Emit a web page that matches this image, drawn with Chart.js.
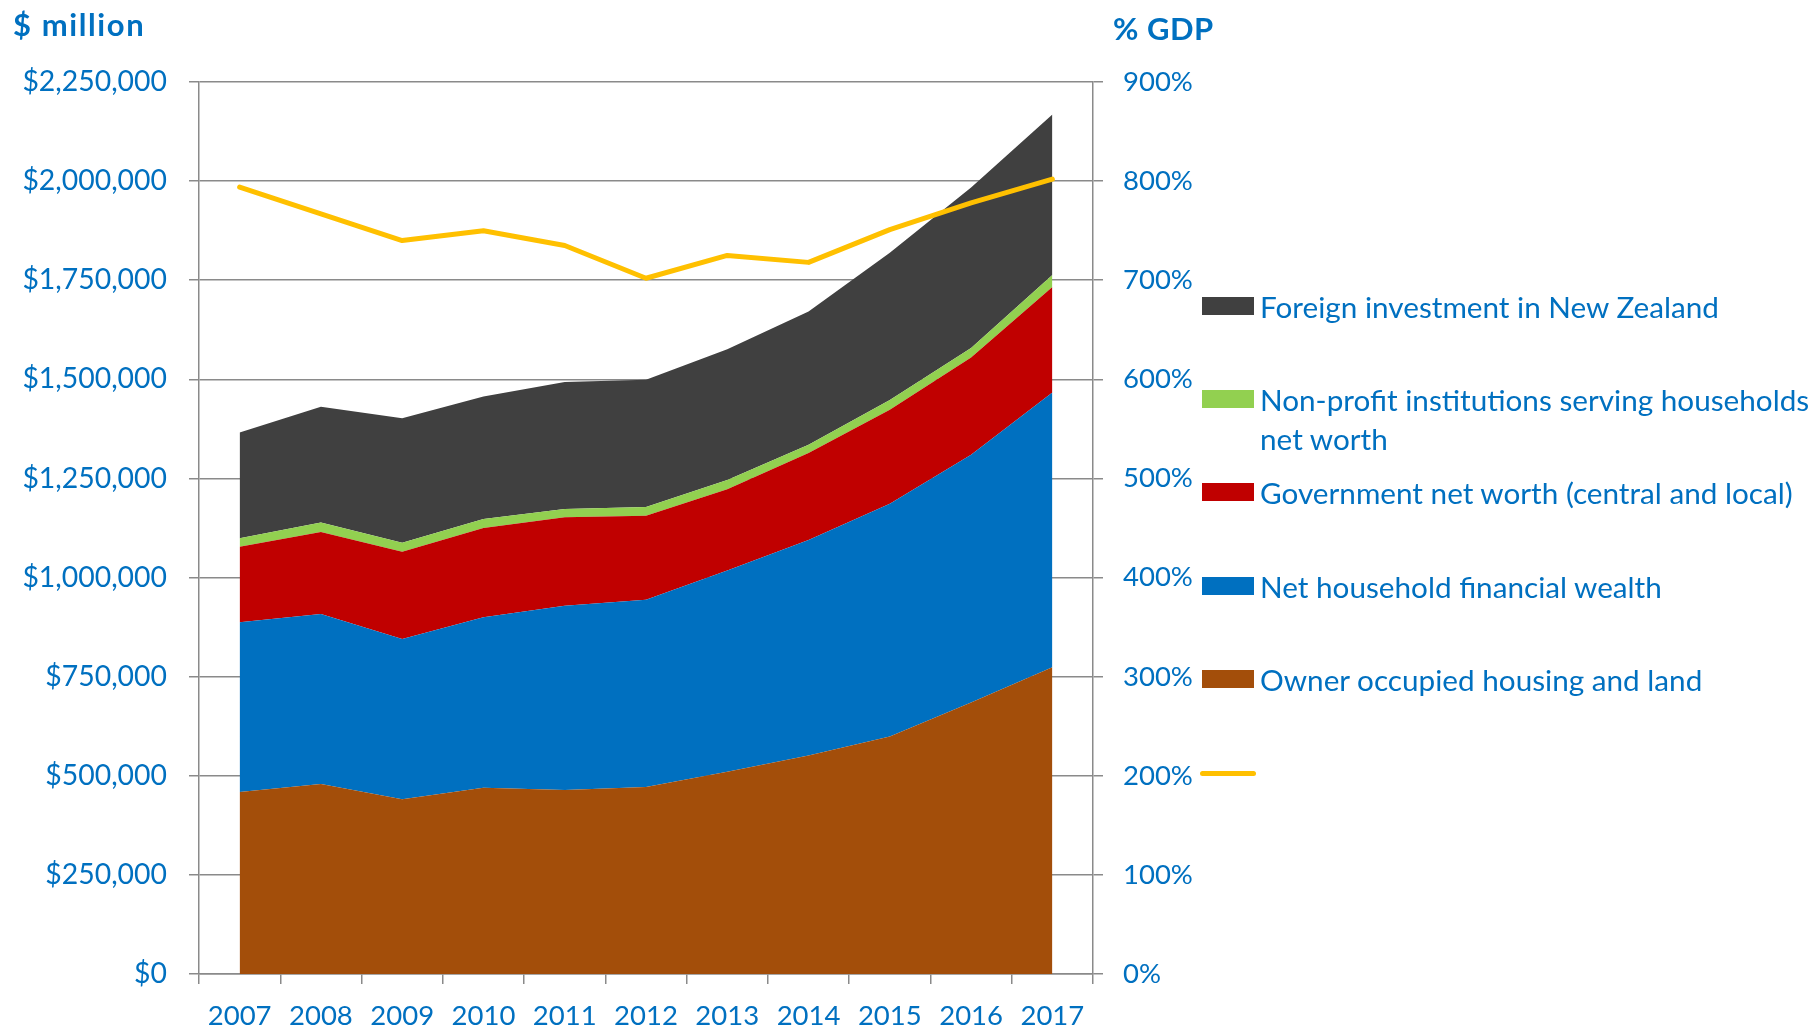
<!DOCTYPE html>
<html><head><meta charset="utf-8">
<script src="https://cdn.jsdelivr.net/npm/chart.js@4.4.1/dist/chart.umd.min.js"></script>
<style>
html,body{margin:0;padding:0;background:#fff;}
#wrap{position:relative;width:1812px;height:1028px;overflow:hidden;font-family:Lato, sans-serif;color:#0070C0;}
canvas{position:absolute;left:0;top:0;}
.ttl{position:absolute;font-weight:bold;font-size:31px;white-space:nowrap;line-height:1;letter-spacing:0.5px;}
.sw{position:absolute;left:1202px;width:52px;height:18px;}
.swl{position:absolute;left:1200px;width:56px;height:5px;border-radius:3px;}
.lt{position:absolute;left:1260px;font-size:29.7px;white-space:nowrap;line-height:39px;}
</style></head><body>
<div id="wrap">
<canvas id="c" width="1812" height="1028"></canvas>
<div class="ttl" style="left:13px;top:9px;letter-spacing:1.6px;">$ million</div>
<div class="ttl" style="left:1113px;top:13px;">% GDP</div>
<div id="legend"></div>
</div>
<script>
// ---- data ----
const years = ['2007','2008','2009','2010','2011','2012','2013','2014','2015','2016','2017'];
const ownerHousing = [459000, 479000, 441000, 470000, 464000, 472000, 510000, 551000, 599000, 685000, 774000];
const householdFinancial = [428000, 429000, 404000, 430000, 465000, 472000, 508000, 544000, 587000, 625000, 693000];
const governmentNetWorth = [191000, 207000, 220000, 225000, 223000, 212000, 205000, 219000, 237000, 245000, 266000];
const nonProfitNetWorth = [21000, 24000, 23000, 23000, 21000, 22000, 23000, 21000, 25000, 24000, 30000];
const foreignInvestment = [267000, 292000, 314000, 309000, 320000, 321000, 330000, 336000, 371000, 405000, 405000];
const wealthPctGDP = [794, 767, 740, 750, 735, 702, 725, 718, 751, 778, 802];
const leftTickStep = 250000, leftMax = 2250000;
const rightTickStep = 100, rightMax = 900;

// ---- style ----
const blueText = '#0070C0';
const grey = '#8a8a8a';
const tickFont = {family: 'Lato', size: 27.5};
const leftTickFont = {family: 'Lato', size: 28.4};

function area(label, data, color, fill) {
  return {label, data, yAxisID: 'y', backgroundColor: color, borderColor: color,
          borderWidth: 0, pointRadius: 0, pointHoverRadius: 0, fill, tension: 0};
}

const chart = new Chart(document.getElementById('c'), {
  type: 'line',
  data: {
    labels: years,
    datasets: [
      {label: '', data: wealthPctGDP, yAxisID: 'y1', borderColor: '#FFC000', backgroundColor: '#FFC000',
       borderWidth: 5, pointRadius: 0, pointHoverRadius: 0, fill: false, order: -1,
       borderCapStyle: 'round', borderJoinStyle: 'round', tension: 0},
      area('Owner occupied housing and land', ownerHousing, '#A34E0A', 'origin'),
      area('Net household financial wealth', householdFinancial, '#0070C0', '-1'),
      area('Government net worth (central and local)', governmentNetWorth, '#C00000', '-1'),
      area(['Non-profit institutions serving households', 'net worth'], nonProfitNetWorth, '#92D050', '-1'),
      area('Foreign investment in New Zealand', foreignInvestment, '#404040', '-1')
    ]
  },
  options: {
    responsive: false, animation: false, devicePixelRatio: 1,
    layout: {padding: {top: 82, left: 0, right: 0, bottom: 0}},
    plugins: {legend: {display: false}, tooltip: {enabled: false}},
    scales: {
      x: {
        offset: true,
        grid: {offset: true, drawOnChartArea: false, drawTicks: true, tickLength: 10, color: grey, lineWidth: 1.5},
        border: {display: true, color: grey, width: 1.5},
        ticks: {color: blueText, font: tickFont, padding: 16, maxRotation: 0, autoSkip: false},
        afterFit: s => { s.height = 54; }
      },
      y: {
        position: 'left', stacked: true, min: 0, max: leftMax,
        ticks: {stepSize: leftTickStep, color: blueText, font: leftTickFont, padding: 22,
                callback: v => '$' + Number(v).toLocaleString('en-US')},
        grid: {color: grey, lineWidth: 1.5, tickLength: 10},
        border: {display: true, color: grey, width: 1.5},
        afterFit: s => { s.width = 199; }
      },
      y1: {
        position: 'right', min: 0, max: rightMax,
        ticks: {stepSize: rightTickStep, color: blueText, font: tickFont, padding: 20,
                callback: v => v + '%'},
        grid: {drawOnChartArea: false, tickLength: 10, color: grey, lineWidth: 1.5},
        border: {display: true, color: grey, width: 1.5},
        afterFit: s => { s.width = 1812 - 1093; }
      }
    }
  }
});

// ---- HTML legend (reverse stacking order, line last) ----
const legendRowCenters = [306, 399, 492, 586, 679, 773];
const legendItems = chart.data.datasets.slice(1).reverse().concat([chart.data.datasets[0]]);
const legendEl = document.getElementById('legend');
legendItems.forEach((ds, i) => {
  const cy = legendRowCenters[i];
  const isLine = ds.yAxisID === 'y1';
  const sw = document.createElement('div');
  if (isLine) {
    sw.className = 'swl';
    sw.style.top = (cy - 2.5) + 'px';
    sw.style.background = ds.borderColor;
  } else {
    sw.className = 'sw';
    sw.style.top = (cy - 9) + 'px';
    sw.style.background = ds.backgroundColor;
  }
  legendEl.appendChild(sw);
  const lines = Array.isArray(ds.label) ? ds.label : [ds.label];
  if (lines.join('') !== '') {
    const t = document.createElement('div');
    t.className = 'lt';
    t.style.top = (cy - 19.5) + 'px';
    t.innerHTML = lines.map(s => s.replace(/&/g,'&amp;').replace(/</g,'&lt;')).join('<br>');
    legendEl.appendChild(t);
  }
});
</script>
</body></html>
